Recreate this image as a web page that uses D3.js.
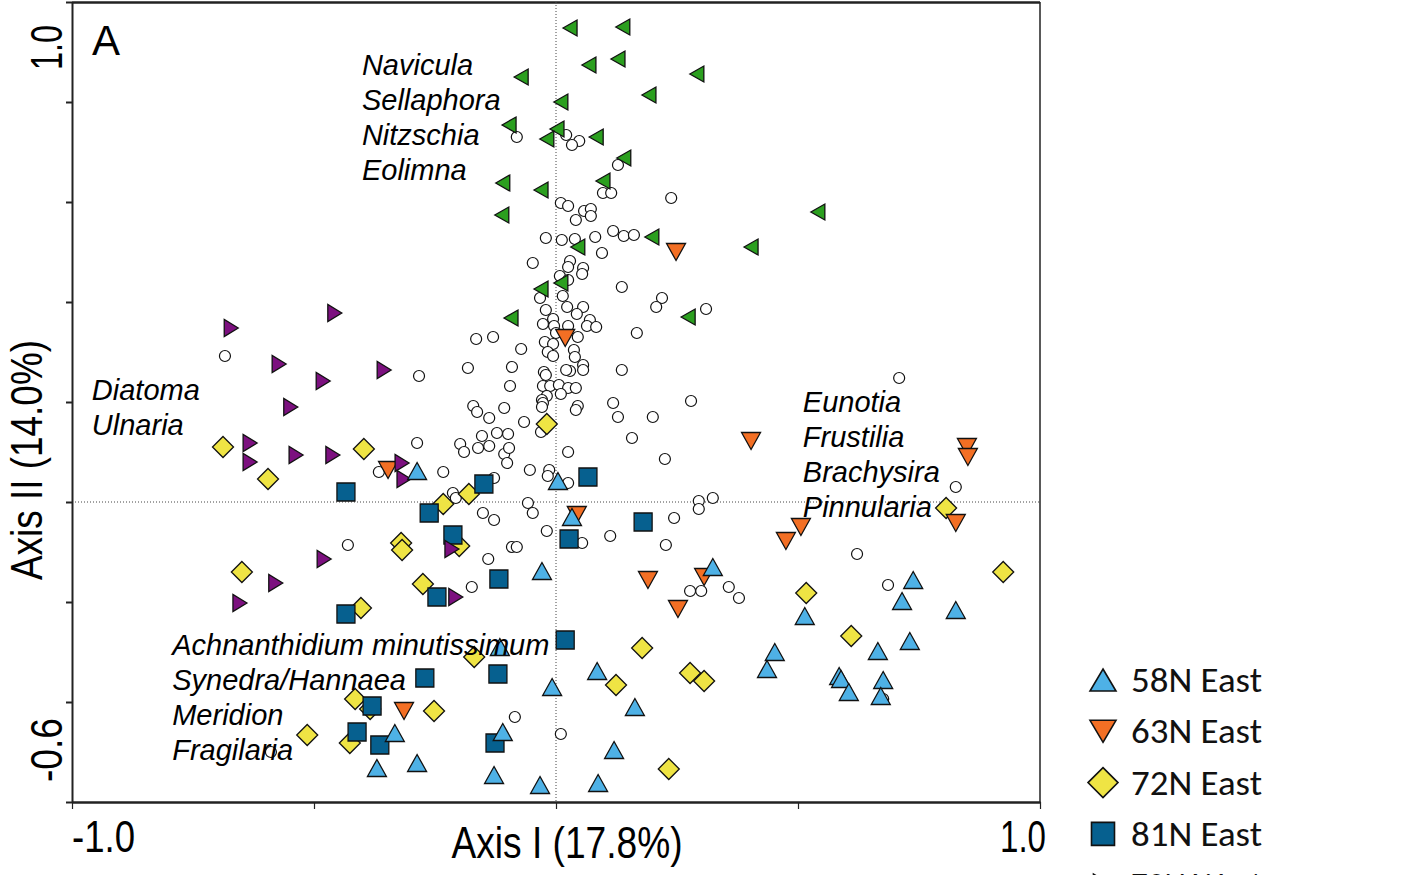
<!DOCTYPE html>
<html>
<head>
<meta charset="utf-8">
<script src="https://cdn.jsdelivr.net/npm/d3@7/dist/d3.min.js"></script>
<style>
    body { margin: 0; background: #fff; }
    svg { display: block; }
</style>
</head>
<body>
<svg id="chart" width="1411" height="875"></svg>
<script>
    // species scores (open circles)
    var species = [
        [-0.081, 0.730], [0.021, 0.734], [0.048, 0.722], [0.033, 0.714], [0.128, 0.674],
        [0.097, 0.618], [0.114, 0.618], [0.238, 0.608], [0.010, 0.598], [0.025, 0.592],
        [0.058, 0.582], [0.072, 0.586], [0.072, 0.572], [0.041, 0.564], [-0.021, 0.528],
        [0.012, 0.524], [0.039, 0.526], [0.081, 0.530], [0.118, 0.542], [0.140, 0.532],
        [0.161, 0.534], [0.095, 0.498], [-0.048, 0.478], [0.029, 0.482], [0.025, 0.470],
        [0.056, 0.468], [0.008, 0.452], [0.054, 0.456], [0.025, 0.444], [0.136, 0.430],
        [0.014, 0.412], [-0.033, 0.408], [0.219, 0.408], [0.207, 0.390], [0.310, 0.386],
        [-0.021, 0.384], [0.023, 0.390], [0.056, 0.390], [0.043, 0.376], [0.070, 0.364],
        [0.064, 0.352], [0.083, 0.350], [-0.006, 0.366], [-0.027, 0.356], [-0.004, 0.352],
        [0.025, 0.352], [0.000, 0.338], [0.045, 0.330], [-0.165, 0.326], [-0.130, 0.330],
        [-0.072, 0.306], [0.167, 0.338], [-0.023, 0.320], [-0.006, 0.316], [-0.017, 0.300],
        [-0.006, 0.292], [0.037, 0.304], [0.039, 0.290], [0.056, 0.274], [0.056, 0.264],
        [0.029, 0.262], [0.021, 0.264], [-0.182, 0.268], [-0.091, 0.270], [-0.283, 0.252],
        [0.136, 0.264], [-0.025, 0.260], [-0.021, 0.254], [-0.095, 0.232], [-0.027, 0.232],
        [-0.012, 0.232], [0.006, 0.234], [0.025, 0.228], [0.041, 0.228], [-0.019, 0.212],
        [0.010, 0.216], [-0.029, 0.204], [-0.027, 0.198], [-0.029, 0.190], [0.045, 0.192],
        [0.041, 0.184], [0.118, 0.198], [0.279, 0.202], [-0.171, 0.192], [-0.163, 0.180],
        [-0.107, 0.188], [0.128, 0.170], [0.200, 0.170], [-0.138, 0.168], [-0.066, 0.160],
        [-0.031, 0.140], [0.157, 0.128], [-0.153, 0.132], [-0.122, 0.138], [-0.099, 0.136],
        [-0.287, 0.118], [-0.198, 0.116], [-0.190, 0.100], [-0.161, 0.108], [-0.138, 0.112],
        [-0.107, 0.096], [-0.097, 0.108], [-0.101, 0.078], [0.025, 0.100], [0.225, 0.086],
        [-0.233, 0.060], [-0.054, 0.064], [-0.014, 0.064], [-0.017, 0.052], [0.025, 0.038],
        [-0.128, 0.048], [-0.213, 0.018], [-0.207, 0.008], [-0.058, -0.002], [-0.048, -0.022],
        [-0.151, -0.022], [-0.128, -0.036], [-0.019, -0.058], [0.112, -0.068], [0.244, -0.032],
        [0.295, 0.002], [0.295, -0.014], [0.324, 0.008], [-0.684, 0.292], [-0.366, 0.060],
        [0.709, 0.248], [0.826, 0.030], [-0.430, -0.086], [-0.589, -0.500], [-0.140, -0.114],
        [-0.174, -0.170], [-0.091, -0.090], [-0.081, -0.090], [0.054, -0.082], [0.227, -0.086],
        [0.277, -0.178], [0.300, -0.178], [-0.085, -0.430], [0.010, -0.464], [0.622, -0.104],
        [0.357, -0.170], [0.378, -0.192], [0.686, -0.166], [0.676, -0.394]
    ];

    // sample scores per site
    var site58East = [
        [-0.287, 0.062], [0.004, 0.042], [0.033, -0.030], [-0.029, -0.138], [-0.116, -0.290],
        [-0.008, -0.370], [0.085, -0.338], [0.163, -0.410], [-0.110, -0.460], [-0.287, -0.522],
        [-0.128, -0.546], [-0.033, -0.566], [0.087, -0.562], [0.120, -0.496], [0.324, -0.130],
        [-0.333, -0.462], [-0.370, -0.532], [0.514, -0.228], [0.452, -0.300], [0.436, -0.334],
        [0.585, -0.348], [0.589, -0.354], [0.605, -0.380], [0.665, -0.298], [0.676, -0.356],
        [0.671, -0.388], [0.738, -0.156], [0.715, -0.198], [0.731, -0.278], [0.826, -0.216]
    ];
    var site63East = [
        [0.248, 0.500], [0.019, 0.328], [0.403, 0.122], [0.849, 0.110], [0.851, 0.090],
        [0.826, -0.042], [0.506, -0.050], [0.475, -0.078], [-0.347, 0.064], [0.043, -0.026],
        [0.190, -0.156], [0.306, -0.150], [0.252, -0.214], [-0.314, -0.418]
    ];
    var site72East = [
        [-0.688, 0.110], [-0.595, 0.046], [-0.397, 0.106], [-0.019, 0.156], [-0.180, 0.016],
        [-0.233, -0.004], [0.806, -0.012], [-0.649, -0.140], [-0.403, -0.212], [-0.415, -0.394],
        [-0.384, -0.414], [-0.514, -0.466], [-0.426, -0.482], [-0.320, -0.082], [-0.318, -0.096],
        [-0.200, -0.088], [-0.275, -0.164], [-0.169, -0.310], [-0.252, -0.418], [0.178, -0.292],
        [0.124, -0.366], [0.277, -0.342], [0.306, -0.358], [0.233, -0.534], [0.517, -0.182],
        [0.610, -0.268], [0.924, -0.140]
    ];
    var site81East = [
        [-0.434, 0.020], [-0.149, 0.036], [0.066, 0.050], [-0.262, -0.022], [-0.213, -0.066],
        [0.180, -0.040], [0.027, -0.074], [-0.118, -0.154], [-0.246, -0.190], [0.019, -0.276],
        [-0.271, -0.352], [-0.120, -0.344], [-0.126, -0.482], [-0.434, -0.224], [-0.380, -0.408],
        [-0.411, -0.460], [-0.364, -0.486]
    ];
    var site72West = [
        [-0.671, 0.348], [-0.457, 0.378], [-0.572, 0.276], [-0.481, 0.242], [-0.355, 0.264],
        [-0.548, 0.190], [-0.632, 0.118], [-0.632, 0.080], [-0.537, 0.094], [-0.461, 0.094],
        [-0.318, 0.078], [-0.314, 0.046], [-0.479, -0.114], [-0.579, -0.162], [-0.653, -0.202],
        [-0.215, -0.094], [-0.207, -0.190]
    ];
    var site81West = [
        [0.029, 0.948], [0.138, 0.950], [0.068, 0.874], [0.128, 0.886], [-0.072, 0.850],
        [0.291, 0.856], [0.192, 0.814], [0.010, 0.800], [-0.097, 0.754], [0.002, 0.746],
        [-0.019, 0.726], [0.083, 0.730], [0.140, 0.688], [0.097, 0.642], [-0.110, 0.638],
        [-0.031, 0.624], [-0.112, 0.574], [0.198, 0.530], [0.045, 0.510], [0.541, 0.580],
        [0.403, 0.510], [-0.031, 0.426], [0.010, 0.438], [-0.093, 0.368], [0.273, 0.370]
    ];

    var siteNames = ["58N East", "63N East", "72N East", "81N East", "72N West", "81N West"];
    var xTicks = [-1.0, -0.5, 0, 0.5, 1.0];
    var yTicks = [-0.6, -0.4, -0.2, 0, 0.2, 0.4, 0.6, 0.8, 1.0];
    var xTickLabels = ["-1.0", "1.0"];
    var yTickLabels = ["-0.6", "1.0"];

    var genusGroups = [
        ["Navicula", "Sellaphora", "Nitzschia", "Eolimna"],
        ["Diatoma", "Ulnaria"],
        ["Eunotia", "Frustilia", "Brachysira", "Pinnularia"],
        ["Achnanthidium minutissimum", "Synedra/Hannaea", "Meridion", "Fragilaria"]
    ];
    // where each group of genus names starts (axis units, first baseline)
    var genusAnchors = [[-0.401, 0.854], [-0.959, 0.204], [0.510, 0.180], [-0.793, -0.306]];

    function triUp(w, h) { return "M0," + (-h / 2) + "L" + (w / 2) + "," + (h / 2) + "L" + (-w / 2) + "," + (h / 2) + "Z"; }
    function triDown(w, h) { return "M0," + (h / 2) + "L" + (w / 2) + "," + (-h / 2) + "L" + (-w / 2) + "," + (-h / 2) + "Z"; }
    function triLeft(w, h) { return "M" + (-w / 2) + ",0L" + (w / 2) + "," + (-h / 2) + "L" + (w / 2) + "," + (h / 2) + "Z"; }
    function triRight(w, h) { return "M" + (w / 2) + ",0L" + (-w / 2) + "," + (-h / 2) + "L" + (-w / 2) + "," + (h / 2) + "Z"; }
    function diamond(w) { return "M0," + (-w / 2) + "L" + (w / 2) + ",0L0," + (w / 2) + "L" + (-w / 2) + ",0Z"; }
    function square(s) { return "M" + (-s / 2) + "," + (-s / 2) + "h" + s + "v" + s + "h" + (-s) + "Z"; }

    var svg = d3.select("#chart");
    var margin = { top: 2, right: 371, bottom: 73, left: 72 };
    var width = +svg.attr("width") - margin.left - margin.right;
    var height = +svg.attr("height") - margin.top - margin.bottom;

    var x = d3.scaleLinear().domain([-1.0, 1.0]).range([margin.left, margin.left + width]);
    var y = d3.scaleLinear().domain([-0.6, 1.0]).range([margin.top + height, margin.top]);

    // plot order matters: later series sit on top
    var series = [
        { name: siteNames[5], data: site81West, fill: "#2b9f1f", path: triLeft(14, 16), legendPath: triLeft(19, 22) },
        { name: siteNames[2], data: site72East, fill: "#efe444", path: diamond(21), legendPath: diamond(30) },
        { name: siteNames[1], data: site63East, fill: "#f36f24", path: triDown(19, 17), legendPath: triDown(26, 22) },
        { name: siteNames[3], data: site81East, fill: "#06608f", path: square(18), legendPath: square(23) },
        { name: siteNames[4], data: site72West, fill: "#7c107f", path: triRight(14, 17), legendPath: triRight(19, 22) },
        { name: siteNames[0], data: site58East, fill: "#4eb1e6", path: triUp(19, 17), legendPath: triUp(26, 22) }
    ];

    // frame
    svg.append("line").attr("x1", x(-1)).attr("x2", x(1)).attr("y1", y(1) + 0.5).attr("y2", y(1) + 0.5)
        .attr("stroke", "#222").attr("stroke-width", 2.5);
    svg.append("line").attr("x1", x(1)).attr("x2", x(1)).attr("y1", y(1)).attr("y2", y(-0.6))
        .attr("stroke", "#222").attr("stroke-width", 1.5);

    // dotted zero lines
    svg.append("line").attr("x1", x(0)).attr("x2", x(0)).attr("y1", y(1)).attr("y2", y(-0.6))
        .attr("stroke", "#444").attr("stroke-width", 1).attr("stroke-dasharray", "1,2");
    svg.append("line").attr("x1", x(-1)).attr("x2", x(1)).attr("y1", y(0)).attr("y2", y(0))
        .attr("stroke", "#444").attr("stroke-width", 1).attr("stroke-dasharray", "1,2");

    svg.append("g")
        .attr("transform", "translate(0," + y(-0.6) + ")")
        .call(d3.axisBottom(x).tickValues(xTicks).tickFormat("").tickSize(7).tickSizeOuter(0))
        .call(function (g) { g.select(".domain").attr("stroke", "#222").attr("stroke-width", 2.5); })
        .call(function (g) { g.selectAll(".tick line").attr("stroke", "#222").attr("stroke-width", 1.2); });

    svg.append("g")
        .attr("transform", "translate(" + x(-1) + ",0)")
        .call(d3.axisLeft(y).tickValues(yTicks).tickFormat("").tickSize(6).tickSizeOuter(0))
        .call(function (g) { g.select(".domain").attr("stroke", "#222").attr("stroke-width", 2); })
        .call(function (g) { g.selectAll(".tick line").attr("stroke", "#222").attr("stroke-width", 2); });

    var axisFont = "'Liberation Sans Narrow', 'Arial Narrow', 'Liberation Sans', Arial, sans-serif";

    svg.append("text").attr("x", x(-1)).attr("y", 852)
        .attr("font-family", axisFont).attr("font-size", 44)
        .attr("textLength", 63).attr("lengthAdjust", "spacingAndGlyphs")
        .text(xTickLabels[0]);
    svg.append("text").attr("x", x(1) + 6).attr("y", 852).attr("text-anchor", "end")
        .attr("font-family", axisFont).attr("font-size", 44)
        .attr("textLength", 46).attr("lengthAdjust", "spacingAndGlyphs")
        .text(xTickLabels[1]);
    svg.append("text").attr("x", 567).attr("y", 858).attr("text-anchor", "middle")
        .attr("font-family", axisFont).attr("font-size", 44)
        .attr("textLength", 231).attr("lengthAdjust", "spacingAndGlyphs")
        .text("Axis I (17.8%)");

    svg.append("text").attr("transform", "translate(62," + (y(-0.6) - 20) + ") rotate(-90)")
        .attr("font-family", axisFont).attr("font-size", 44)
        .attr("textLength", 64).attr("lengthAdjust", "spacingAndGlyphs")
        .text(yTickLabels[0]);
    svg.append("text").attr("transform", "translate(62," + (y(1.0) + 68) + ") rotate(-90)")
        .attr("font-family", axisFont).attr("font-size", 44)
        .attr("textLength", 45).attr("lengthAdjust", "spacingAndGlyphs")
        .text(yTickLabels[1]);
    svg.append("text").attr("transform", "translate(42,460) rotate(-90)").attr("text-anchor", "middle")
        .attr("font-family", axisFont).attr("font-size", 44)
        .attr("textLength", 240).attr("lengthAdjust", "spacingAndGlyphs")
        .text("Axis II (14.0%)");

    // species
    svg.append("g").selectAll("circle")
        .data(species)
        .enter().append("circle")
        .attr("cx", function (d) { return x(d[0]); })
        .attr("cy", function (d) { return y(d[1]); })
        .attr("r", 5.5)
        .attr("fill", "#fff")
        .attr("stroke", "#111")
        .attr("stroke-width", 1.2);

    series.forEach(function (s) {
        svg.append("g").selectAll("path")
            .data(s.data)
            .enter().append("path")
            .attr("transform", function (d) { return "translate(" + x(d[0]) + "," + y(d[1]) + ")"; })
            .attr("d", s.path)
            .attr("fill", s.fill)
            .attr("stroke", "#111")
            .attr("stroke-width", 1.3)
            .attr("stroke-linejoin", "miter");
    });

    // genus labels
    var genusFont = "'Liberation Sans', Arial, sans-serif";
    genusGroups.forEach(function (group, i) {
        var gx = x(genusAnchors[i][0]);
        var gy = y(genusAnchors[i][1]);
        svg.append("g").selectAll("text")
            .data(group)
            .enter().append("text")
            .attr("x", gx)
            .attr("y", function (d, j) { return gy + j * 35; })
            .attr("font-family", genusFont)
            .attr("font-size", 29)
            .attr("font-style", "italic")
            .attr("fill", "#000")
            .text(function (d) { return d; });
    });

    svg.append("text").attr("x", 92).attr("y", 55)
        .attr("font-family", genusFont).attr("font-size", 42)
        .text("A");

    // legend, in the same order as the site names
    var legendOrder = [5, 2, 1, 3, 4, 0].map(function (k) { return series[k]; });
    var legend = svg.append("g").attr("transform", "translate(1103,680)");
    var rows = legend.selectAll("g")
        .data(legendOrder)
        .enter().append("g")
        .attr("transform", function (d, i) { return "translate(0," + (i * 51.3) + ")"; });
    rows.append("path")
        .attr("d", function (d) { return d.legendPath; })
        .attr("fill", function (d) { return d.fill; })
        .attr("stroke", "#111")
        .attr("stroke-width", 1.6);
    rows.append("text")
        .attr("x", 28)
        .attr("y", 12)
        .attr("font-family", "Carlito, Calibri, Lato, 'Open Sans', sans-serif")
        .attr("font-size", 35)
        .attr("textLength", 131)
        .attr("lengthAdjust", "spacingAndGlyphs")
        .attr("fill", "#111")
        .text(function (d) { return d.name; });
</script>
</body>
</html>
